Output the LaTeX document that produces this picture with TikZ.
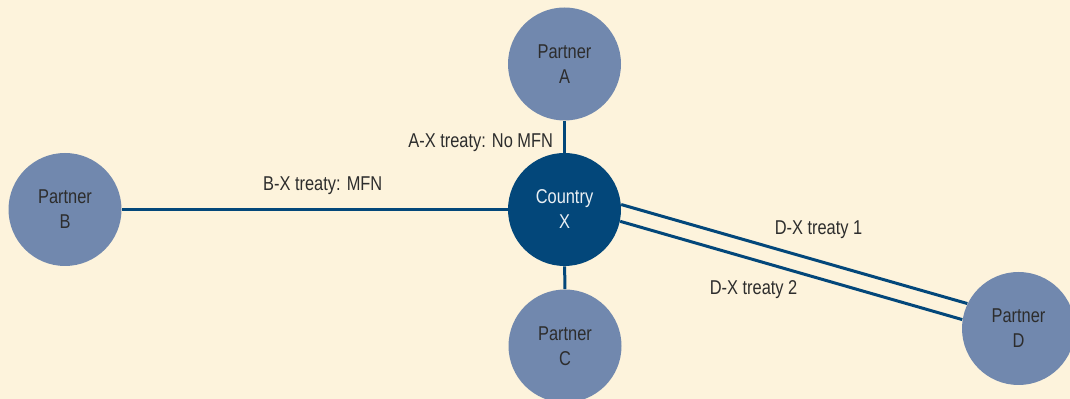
\documentclass[tikz,border=0pt]{standalone}
\usepackage{fontspec}
\setmainfont{Liberation Sans}[FakeStretch=0.82]
\usepackage{tikz}
\usetikzlibrary{positioning,calc}
\usepackage{xcolor}
\definecolor{PaperCream}{RGB}{253,243,220}
\definecolor{PartnerBlue}{RGB}{113,136,174}
\definecolor{CountryBlue}{RGB}{3,71,122}
\definecolor{LabelGray}{RGB}{45,45,45}
\tikzset{
  partner/.style={circle,fill=PartnerBlue,minimum size=56.5pt,inner sep=0pt,
    align=center,text=LabelGray,font=\fontsize{10}{12.5}\selectfont},
  country/.style={circle,fill=CountryBlue,minimum size=56.5pt,inner sep=0pt,
    align=center,text=white!92!CountryBlue,font=\fontsize{10}{12.5}\selectfont},
  treatyline/.style={line width=1.5pt,draw=CountryBlue},
  treatylabel/.style={text=LabelGray,font=\fontsize{10}{12}\selectfont,inner sep=0pt},
}

\begin{document}
\begin{tikzpicture}[x=0.5pt,y=-0.5pt]
  \fill[PaperCream] (0,0) rectangle (1070,399);
  \useasboundingbox (0,0) rectangle (1070,399);
  \node[country] (cx) at (564.5,209.5) {Country\\X};
  \node[partner] (pa) at (564.5,64) {Partner\\A};
  \node[partner] (pb) at (65,209.5) {Partner\\B};
  \node[partner] (pc) at (565,346) {Partner\\C};
  \node[partner] (pd) at (1018.5,328.5) {Partner\\D};
  \draw[treatyline] (pa) -- node[treatylabel,pos=.68,left=5pt] {A-X treaty: No MFN} (cx);
  \draw[treatyline] (pb) -- node[treatylabel,pos=.5,xshift=4pt,yshift=12pt] {B-X treaty: MFN} (cx);
  \draw[treatyline] (cx) -- (pc);
  \draw[treatyline] (cx.5) -- node[treatylabel,pos=.57,yshift=15.5pt] {D-X treaty 1} (pd.154);
  \draw[treatyline] (cx.-12) -- node[treatylabel,pos=.39,yshift=-15pt] {D-X treaty 2} (pd.171);
\end{tikzpicture}
\end{document}
